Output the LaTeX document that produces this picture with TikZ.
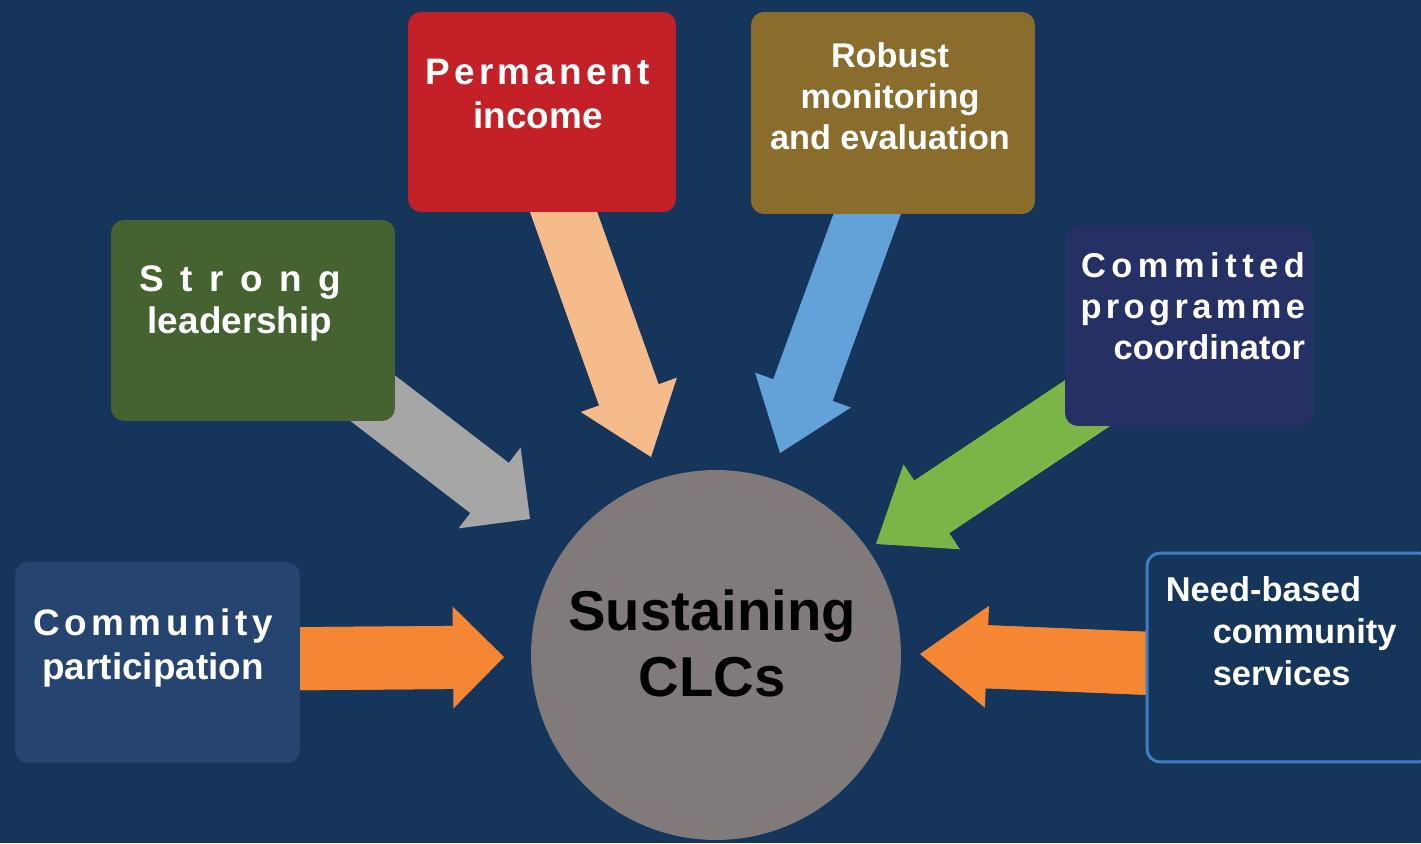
\documentclass[tikz,border=0pt]{standalone}
\usepackage{fontspec}
\setmainfont{Liberation Sans}
\usepackage{tikz}
\usetikzlibrary{calc,positioning,backgrounds,arrows.meta}
\definecolor{bgblue}{HTML}{15355B}
\definecolor{commblue}{HTML}{264470}
\definecolor{leadgreen}{HTML}{446330}
\definecolor{permred}{HTML}{C32027}
\definecolor{robbrown}{HTML}{8A6C2C}
\definecolor{commitblue}{HTML}{253064}
\definecolor{needline}{HTML}{3D7DC4}
\definecolor{hubgray}{HTML}{807B7A}
\definecolor{arrorange}{HTML}{F58734}
\definecolor{arrgray}{HTML}{A6A6A6}
\definecolor{arrpeach}{HTML}{F5BB8B}
\definecolor{arrblue}{HTML}{63A2D8}
\definecolor{arrgreen}{HTML}{7AB548}
\newcommand{\spaced}[2]{{\addfontfeature{LetterSpace=#1}#2}}

\begin{document}
\begin{tikzpicture}[
      x=0.02cm, y=-0.02cm,
      box/.style={rounded corners=0.26cm, inner sep=0},
      txt/.style={text=white, inner sep=0, align=center},
      bigtxt/.style={txt, font={\bfseries\fontsize{21pt}{#1}\selectfont}},
      smalltxt/.style={txt, font={\bfseries\fontsize{19.6pt}{#1}\selectfont}},
      hub/.style={circle, fill=hubgray, minimum size=7.4cm, inner sep=0},
      arr/.style 2 args={draw=#1, line width=1.26cm,
        -{Triangle[length=#2, width=2.04cm, line width=0pt]},
        postaction={draw=#1, -, shorten >=0.8*#2}}
  ]
  \useasboundingbox (0,0) rectangle (1421,843);

  % boxes
  \node[box, fill=commblue, minimum width=5.7cm, minimum height=4.02cm] (comm) at (157.5,662.5) {};
  \node[box, fill=leadgreen, minimum width=5.68cm, minimum height=4.02cm] (lead) at (253,320.5) {};
  \node[box, fill=permred, minimum width=5.36cm, minimum height=4cm] (perm) at (542,112) {};
  \node[box, fill=robbrown, minimum width=5.68cm, minimum height=4.04cm] (rob) at (893,113) {};
  \node[box, fill=commitblue, minimum width=4.96cm, minimum height=4cm] (commit) at (1189,326) {};
  \node[box, fill=bgblue, draw=needline, line width=0.06cm,
        minimum width=5.68cm, minimum height=4.18cm] (need) at (1289,657.5) {};
  \node[hub] (hub) at (716,655) {};

  % texts
  \node[bigtxt=25pt, below=0.94cm of comm.north, xshift=-0.09cm] (commtxt)
    {\spaced{12.4}{Community}\\participation};
  \node[bigtxt=23.9pt, below=0.92cm of lead.north, xshift=-0.26cm] (leadtxt)
    {\spaced{45}{Strong}\\leadership};
  \node[bigtxt=25pt, below=0.94cm of perm.north, xshift=-0.08cm] (permtxt)
    {\spaced{11.3}{Permanent}\\income};
  \node[txt, font={\bfseries\fontsize{19.5pt}{23.3pt}\selectfont},
        below=0.62cm of rob.north, xshift=-0.06cm] (robtxt)
    {Robust\\monitoring\\and evaluation};
  \node[smalltxt=23.3pt, align=right, below left=0.54cm and 0.16cm of commit.north east] (committxt)
    {\spaced{16}{Committed}\\\spaced{12.7}{programme}\\coordinator};
  \node[smalltxt=23.9pt, align=left, below right=0.5cm and 0.4cm of need.north west] (needtxt)
    {Need-based\\\hspace*{26.7pt}community\\\hspace*{26.7pt}services};
  \node[inner sep=0, align=center, font={\bfseries\fontsize{32pt}{38pt}\selectfont},
        anchor=north] (hubtxt) at ($(hub.center)+(-4,-66)$) {Sustaining\\CLCs};

  % arrows
  \coordinate (commtip) at (504,657);
  \coordinate (leadtip) at (530,519);
  \coordinate (permtip) at (651,457);
  \coordinate (robtip) at (780,453);
  \coordinate (committip) at (876,544);
  \coordinate (needtip) at (920,654);
  \begin{scope}[on background layer]
    \fill[bgblue] (0,0) rectangle (1421,843);
    \draw[arr={arrorange}{1.02cm}] ($(comm.east)+(-40,-3.5)$) -- (commtip);
    \draw[arr={arrgray}{1.02cm}] ($(lead.south east)+(-25,-25)$) -- (leadtip);
    \draw[arr={arrpeach}{1.32cm}] ($(perm.south)+(11,-30)$) -- (permtip);
    \draw[arr={arrblue}{1.34cm}] ($(rob.south)+(-15,-30)$) -- (robtip);
    \draw[arr={arrgreen}{1.34cm}] ($(commit.south west)+(33,-30)$) -- (committip);
    \draw[arr={arrorange}{1.34cm}] ($(need.west)+(40,7.4)$) -- (needtip);
  \end{scope}
\end{tikzpicture}
\end{document}
